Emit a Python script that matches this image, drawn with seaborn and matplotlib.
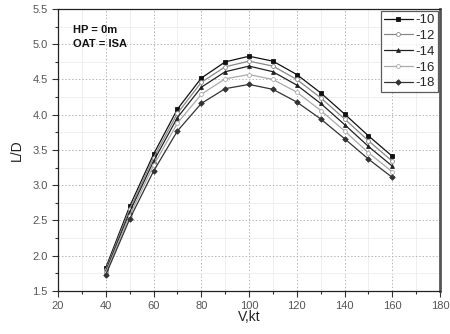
import matplotlib
matplotlib.use("Agg")
import matplotlib.pyplot as plt
import seaborn as sns
import pandas as pd
from matplotlib.ticker import MultipleLocator

V = [40, 50, 60, 70, 80, 90, 100, 110, 120, 130, 140, 150, 160]
ld_m10 = [1.83, 2.70, 3.44, 4.08, 4.52, 4.75, 4.83, 4.76, 4.57, 4.31, 4.01, 3.70, 3.41]
ld_m12 = [1.80, 2.66, 3.39, 4.02, 4.46, 4.68, 4.76, 4.69, 4.50, 4.24, 3.94, 3.63, 3.34]
ld_m14 = [1.78, 2.62, 3.34, 3.96, 4.39, 4.61, 4.69, 4.61, 4.42, 4.16, 3.86, 3.55, 3.27]
ld_m16 = [1.76, 2.57, 3.28, 3.88, 4.29, 4.51, 4.57, 4.50, 4.32, 4.06, 3.77, 3.46, 3.19]
ld_m18 = [1.73, 2.52, 3.20, 3.77, 4.16, 4.37, 4.43, 4.36, 4.18, 3.94, 3.66, 3.37, 3.11]
series_names = ["-10", "-12", "-14", "-16", "-18"]
series_vals = [ld_m10, ld_m12, ld_m14, ld_m16, ld_m18]

rows = []
for name, vals in zip(series_names, series_vals):
    for v, y in zip(V, vals):
        rows.append({"V": v, "LD": y, "s": name})
df = pd.DataFrame(rows)

sns.set_style("white")
plt.rcParams['font.family'] = ['Liberation Sans', 'DejaVu Sans']

fig = plt.figure(figsize=(4.5, 3.34), dpi=100)
ax = fig.add_axes([0.129, 0.129, 0.849, 0.844])

styles = {
    "-10": dict(color="#111111", marker="s", mfc="#111111"),
    "-12": dict(color="#888888", marker="o", mfc="white"),
    "-14": dict(color="#222222", marker="^", mfc="#222222"),
    "-16": dict(color="#aaaaaa", marker="o", mfc="white"),
    "-18": dict(color="#333333", marker="D", mfc="#333333"),
}
for name in series_names:
    st = styles[name]
    sub = df[df["s"] == name]
    sns.lineplot(data=sub, x="V", y="LD", ax=ax, color=st["color"], lw=0.9,
                 marker=st["marker"], markersize=2.8, markerfacecolor=st["mfc"],
                 markeredgecolor=st["color"], markeredgewidth=0.6, label=name)

ax.set_xlim(20, 180)
ax.set_ylim(1.5, 5.5)
ax.xaxis.set_major_locator(MultipleLocator(20))
ax.xaxis.set_minor_locator(MultipleLocator(10))
ax.yaxis.set_major_locator(MultipleLocator(0.5))
ax.yaxis.set_minor_locator(MultipleLocator(0.25))
ax.yaxis.set_major_formatter(matplotlib.ticker.FormatStrFormatter('%.1f'))
ax.grid(which="major", color="#b5b5b5", ls=(0, (1.5, 2)), lw=0.7)
ax.grid(which="minor", color="#ececec", ls="-", lw=0.6)
ax.set_axisbelow(True)
ax.tick_params(which="major", direction="out", length=4, width=0.8, labelsize=8,
               colors="#333333", labelcolor="#555555", bottom=True, left=True)
ax.tick_params(which="minor", direction="out", length=2.5, width=0.8,
               colors="#333333", bottom=True, left=True)
for sp in ["left", "bottom", "top"]:
    ax.spines[sp].set_color("#222222")
    ax.spines[sp].set_linewidth(0.9)
ax.spines["right"].set_color("#555555")
ax.spines["right"].set_linewidth(2.0)

ax.set_xlabel("V,kt", fontsize=10, color="#222222", labelpad=-1)
ax.set_ylabel("L/D", fontsize=10, color="#222222", labelpad=6)

ax.text(0.04, 0.945, "HP = 0m\nOAT = ISA", transform=ax.transAxes, fontsize=8,
        fontweight="bold", va="top", ha="left", linespacing=1.55, color="#111111")

leg = ax.legend(loc="upper right", fontsize=9.5, frameon=True, fancybox=False,
                edgecolor="#333333", handlelength=2.2, handletextpad=0.25,
                borderpad=0.22, labelspacing=0.27, borderaxespad=0.15)
leg.get_frame().set_linewidth(0.9)

fig.savefig("out.png", dpi=100)
